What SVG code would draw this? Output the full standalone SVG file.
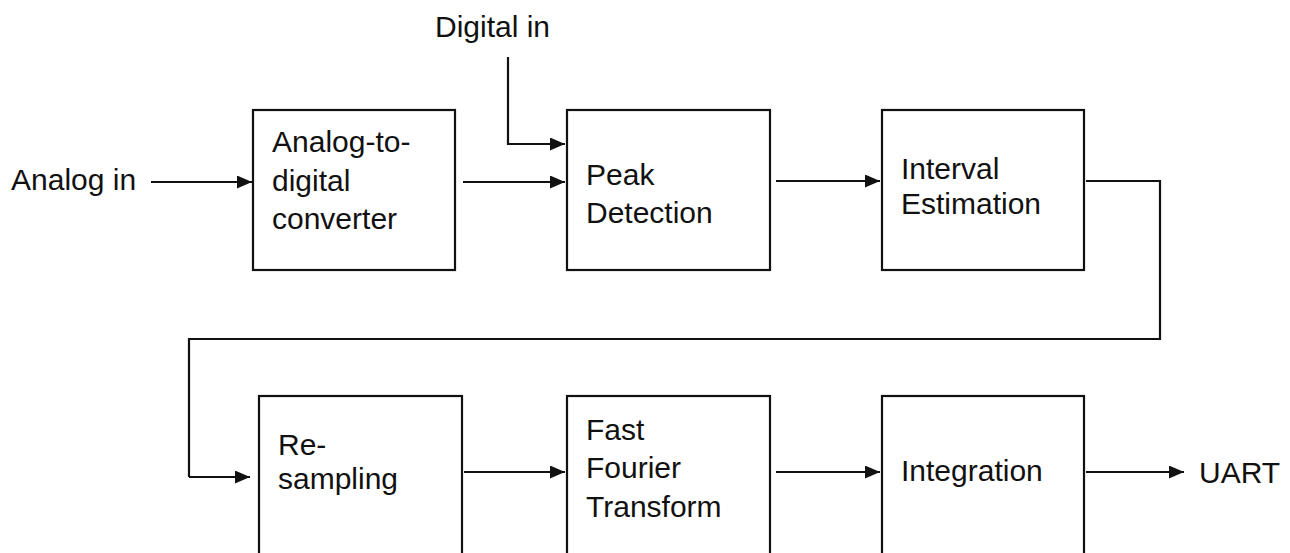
<svg xmlns="http://www.w3.org/2000/svg" width="1290" height="553" viewBox="0 0 1290 553">
  <style>
    .box { fill: #ffffff; stroke: #111111; stroke-width: 2.2; }
    .lbl { font-family: "Liberation Sans", Arial, sans-serif; font-size: 30px; fill: #111111; }
    .conn { fill: none; stroke: #111111; stroke-width: 2.2; }
    .arr { marker-end: url(#ah); }
  </style>
  <defs>
    <marker id="ah" markerUnits="userSpaceOnUse" markerWidth="15" markerHeight="13" refX="15" refY="6.5" orient="auto">
      <path d="M0,0 L15,6.5 L0,13 Z" fill="#111111"/>
    </marker>
  </defs>
  <rect x="0" y="0" width="1290" height="553" fill="#ffffff"/>

  <g id="connectors">
    <path class="conn arr" d="M151,182 H252"/>
    <path class="conn arr" d="M463,182 H565"/>
    <path class="conn arr" d="M508,57 V144 H565"/>
    <path class="conn arr" d="M776,181 H880"/>
    <path class="conn" d="M1086,181 H1160 V339 H189 V477"/>
    <path class="conn arr" d="M189,477 H250"/>
    <path class="conn arr" d="M464,472 H565"/>
    <path class="conn arr" d="M776,472 H880"/>
    <path class="conn arr" d="M1086,472 H1184"/>
  </g>

  <g id="label-digital-in"><text class="lbl" x="435" y="37">Digital in</text></g>
  <g id="label-analog-in"><text class="lbl" x="11" y="190">Analog in</text></g>
  <g id="label-uart"><text class="lbl" x="1199" y="483">UART</text></g>

  <g id="adc">
    <rect class="box" x="253" y="110" width="202" height="160"/>
    <text class="lbl" x="272" y="152">Analog-to-</text>
    <text class="lbl" x="272" y="191">digital</text>
    <text class="lbl" x="272" y="229">converter</text>
  </g>
  <g id="peak">
    <rect class="box" x="567" y="110" width="203" height="160"/>
    <text class="lbl" x="586" y="185">Peak</text>
    <text class="lbl" x="586" y="223">Detection</text>
  </g>
  <g id="interval">
    <rect class="box" x="882" y="110" width="202" height="160"/>
    <text class="lbl" x="901" y="179">Interval</text>
    <text class="lbl" x="901" y="214">Estimation</text>
  </g>
  <g id="resampling">
    <rect class="box" x="259" y="396" width="203" height="170"/>
    <text class="lbl" x="278" y="455">Re-</text>
    <text class="lbl" x="278" y="489">sampling</text>
  </g>
  <g id="fft">
    <rect class="box" x="567" y="396" width="203" height="170"/>
    <text class="lbl" x="586" y="440">Fast</text>
    <text class="lbl" x="586" y="478">Fourier</text>
    <text class="lbl" x="586" y="517">Transform</text>
  </g>
  <g id="integration">
    <rect class="box" x="882" y="396" width="202" height="170"/>
    <text class="lbl" x="901" y="481">Integration</text>
  </g>
</svg>
